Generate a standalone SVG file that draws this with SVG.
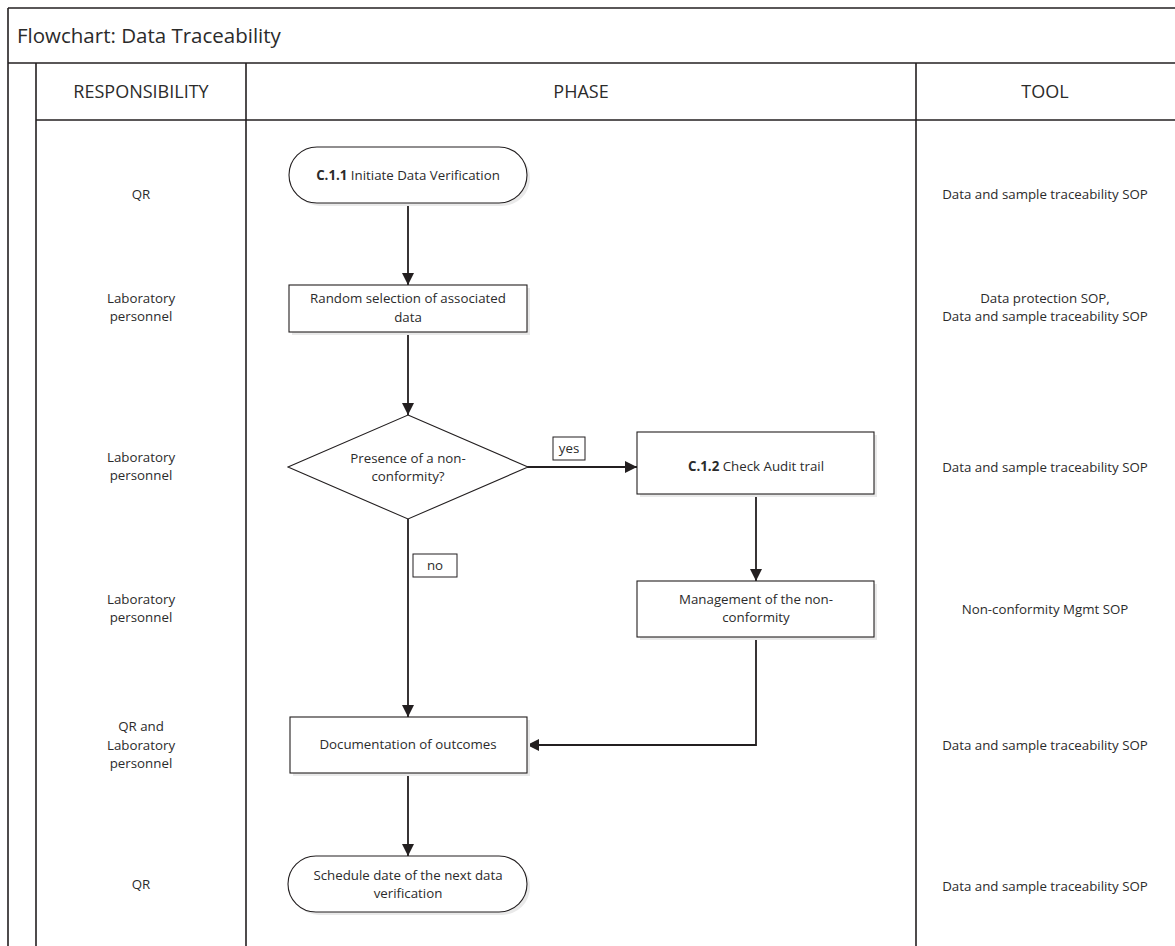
<svg xmlns="http://www.w3.org/2000/svg" width="1175" height="946" viewBox="0 0 1175 946">
<style>
.frame{fill:none;stroke:#231f20;stroke-width:1.6}
.node{fill:#fff;stroke:#231f20;stroke-width:1.1}
.shadow{fill:#e9e9e9;stroke:none}
.t{font-family:"Open Sans","Liberation Sans",Arial,sans-serif;font-size:13.3px;fill:#2b2b2b;text-anchor:middle}
.h{font-family:"Open Sans","Liberation Sans",Arial,sans-serif;font-size:18px;fill:#2b2b2b;text-anchor:middle}
.title{font-family:"Open Sans","Liberation Sans",Arial,sans-serif;font-size:20.5px;fill:#2b2b2b}
.b{font-weight:bold}
.conn{fill:none;stroke:#231f20;stroke-width:1.8}
.lbl{fill:#fff;stroke:#231f20;stroke-width:1}
</style>
<defs>
<marker id="arr" viewBox="0 0 12 12" refX="12" refY="6" markerWidth="12" markerHeight="12" markerUnits="userSpaceOnUse" orient="auto">
<path d="M0,0 L12,6 L0,12 Z" fill="#231f20"/>
</marker>
</defs>
<rect width="1175" height="946" fill="#fff"/>
<g id="frame">
<line class="frame" x1="8" y1="8" x2="1175" y2="8" stroke="#777"/>
<line class="frame" x1="8" y1="8" x2="8" y2="946"/>
<line class="frame" x1="8" y1="63" x2="1175" y2="63"/>
<line class="frame" x1="36" y1="63" x2="36" y2="946"/>
<line class="frame" x1="36" y1="120" x2="1175" y2="120"/>
<line class="frame" x1="246" y1="63" x2="246" y2="946"/>
<line class="frame" x1="916" y1="63" x2="916" y2="946"/>
<text class="title" x="17" y="43">Flowchart: Data Traceability</text>
<text class="h" x="141" y="98">RESPONSIBILITY</text>
<text class="h" x="581" y="98">PHASE</text>
<text class="h" x="1045" y="98">TOOL</text>
</g>
<g id="responsibility">
<text class="t" x="141" y="199">QR</text>
<text class="t" x="141" y="303">Laboratory</text>
<text class="t" x="141" y="321">personnel</text>
<text class="t" x="141" y="462">Laboratory</text>
<text class="t" x="141" y="480">personnel</text>
<text class="t" x="141" y="604">Laboratory</text>
<text class="t" x="141" y="622">personnel</text>
<text class="t" x="141" y="731">QR and</text>
<text class="t" x="141" y="750">Laboratory</text>
<text class="t" x="141" y="768">personnel</text>
<text class="t" x="141" y="889">QR</text>
</g>
<g id="tool">
<text class="t" x="1045" y="199">Data and sample traceability SOP</text>
<text class="t" x="1045" y="303">Data protection SOP,</text>
<text class="t" x="1045" y="321">Data and sample traceability SOP</text>
<text class="t" x="1045" y="472">Data and sample traceability SOP</text>
<text class="t" x="1045" y="614">Non-conformity Mgmt SOP</text>
<text class="t" x="1045" y="750">Data and sample traceability SOP</text>
<text class="t" x="1045" y="891">Data and sample traceability SOP</text>
</g>
<g id="connectors">
<line class="conn" x1="408" y1="203" x2="408" y2="285" marker-end="url(#arr)"/>
<line class="conn" x1="408" y1="333" x2="408" y2="415" marker-end="url(#arr)"/>
<line class="conn" x1="527" y1="467" x2="637" y2="467" marker-end="url(#arr)"/>
<line class="conn" x1="408" y1="519" x2="408" y2="717" marker-end="url(#arr)"/>
<line class="conn" x1="756" y1="494" x2="756" y2="581" marker-end="url(#arr)"/>
<polyline class="conn" points="756,637 756,745 527,745" marker-end="url(#arr)"/>
<line class="conn" x1="408" y1="773" x2="408" y2="856" marker-end="url(#arr)"/>
<rect class="lbl" x="553" y="437" width="32" height="23"/>
<text class="t" x="569" y="453">yes</text>
<rect class="lbl" x="413" y="554" width="44" height="23"/>
<text class="t" x="435" y="570">no</text>
</g>
<g id="start">
<rect class="shadow" x="292" y="150" width="238" height="56" rx="28"/>
<rect class="node" x="289" y="147" width="238" height="56" rx="28"/>
<text class="t" x="408" y="180"><tspan class="b">C.1.1</tspan> Initiate Data Verification</text>
</g>
<g id="random">
<rect class="shadow" x="292" y="288" width="238" height="47"/>
<rect class="node" x="289" y="285" width="238" height="47"/>
<text class="t" x="408" y="303">Random selection of associated</text>
<text class="t" x="408" y="322">data</text>
</g>
<g id="decision">
<polygon class="node" points="408,415 528,467 408,519 288,467"/>
<text class="t" x="408" y="463">Presence of a non-</text>
<text class="t" x="408" y="481">conformity?</text>
</g>
<g id="audit">
<rect class="shadow" x="640" y="435" width="237" height="62"/>
<rect class="node" x="637" y="432" width="237" height="62"/>
<text class="t" x="756" y="471"><tspan class="b">C.1.2</tspan> Check Audit trail</text>
</g>
<g id="management">
<rect class="shadow" x="640" y="584" width="237" height="56"/>
<rect class="node" x="637" y="581" width="237" height="56"/>
<text class="t" x="756" y="604">Management of the non-</text>
<text class="t" x="756" y="622">conformity</text>
</g>
<g id="documentation">
<rect class="shadow" x="293" y="720" width="237" height="56"/>
<rect class="node" x="290" y="717" width="237" height="56"/>
<text class="t" x="408" y="749">Documentation of outcomes</text>
</g>
<g id="schedule">
<rect class="shadow" x="291" y="859" width="239" height="56" rx="28"/>
<rect class="node" x="288" y="856" width="239" height="56" rx="28"/>
<text class="t" x="408" y="880">Schedule date of the next data</text>
<text class="t" x="408" y="898">verification</text>
</g>
</svg>
